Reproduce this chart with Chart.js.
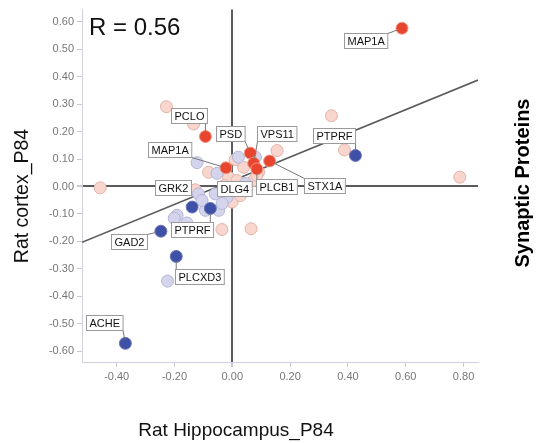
<!DOCTYPE html>
<html>
<head>
<meta charset="utf-8">
<script src="https://cdn.jsdelivr.net/npm/chart.js@4"></script>
<style>
  html, body { margin: 0; padding: 0; background: #fff; }
  #wrap { width: 541px; height: 443px; }
</style>
</head>
<body>
<div id="wrap"><canvas id="scatter"></canvas></div>
<script>
// 四組蛋白點：紅（雙升）、深藍（雙降）、淡粉、淡紫
const redX = [0.587, -0.093, -0.022, 0.062, 0.074, 0.085, 0.129]
const redY = [0.577, 0.182, 0.068, 0.122, 0.085, 0.064, 0.093]

const blueX = [-0.370, -0.247, -0.194, -0.139, -0.076, 0.426]
const blueY = [-0.572, -0.163, -0.255, -0.075, -0.080, 0.113]

const pinkX = [-0.228, -0.134, -0.457, -0.082, 0.039, 0.155, 0.343, 0.388, 0.787, -0.036, 0.065, -0.128,
  -0.013, 0.016, 0.074, 0.091, 0.085, 0.010, -0.013, -0.001, 0.038, -0.028, 0.028]
const pinkY = [0.291, 0.228, -0.005, 0.052, 0.070, 0.131, 0.258, 0.133, 0.034, -0.157, -0.154, -0.012,
  0.034, 0.022, 0.022, 0.052, 0.040, 0.098, -0.039, -0.057, -0.015, 0.004, -0.033]

const lavX = [-0.122, -0.053, 0.021, 0.080, -0.191, -0.201, -0.157, -0.093, -0.047, -0.224, -0.117, -0.059,
  -0.018, -0.105, -0.035, 0.045]
const lavY = [0.087, 0.048, 0.107, 0.107, -0.105, -0.116, -0.133, -0.087, -0.087, -0.345, -0.027, -0.027,
  -0.039, -0.051, -0.062, 0.011]

// 回歸線
const fitSlope = 0.432
const fitIntercept = 0.021
const rText = "R = 0.56"

const xTicks = [-0.4, -0.2, 0, 0.2, 0.4, 0.6, 0.8]
const yTicks = [0.6, 0.5, 0.4, 0.3, 0.2, 0.1, 0, -0.1, -0.2, -0.3, -0.4, -0.5, -0.6]
const xRange = [-0.52, 0.85]
const yRange = [-0.64, 0.645]

// 標籤：名稱、所屬組（dataset 索引）、點索引
const labelNames = ["MAP1A", "PCLO", "MAP1A", "PSD", "VPS11", "PLCB1", "STX1A",
  "PTPRF", "GAD2", "PTPRF", "PLCXD3", "ACHE", "DLG4", "GRK2"]
const labelSets = [0, 0, 0, 0, 0, 0, 0, 1, 1, 1, 1, 1, 3, 3]
const labelIdx = [0, 1, 2, 3, 4, 5, 6, 5, 1, 4, 2, 0, 21, 11]
// 標籤框相對點的位移（像素）
const labelOffset = [[-36, 12], [-16, -21], [-56, -18], [-20, -20], [23, -30], [20, 18], [55, 25],
  [-21, -20], [-32, 10], [-18, 21], [23, 20], [-21, -21], [10, 3], [-22, -2]]

const FONT = "'Liberation Sans', Arial, sans-serif"

const pts = (xs, ys) => xs.map((x, i) => ({ x: x, y: ys[i] }))

const labelPlugin = {
  id: "labels",
  afterDatasetsDraw(chart) {
    const ctx = chart.ctx
    ctx.save()
    ctx.font = "11px " + FONT
    labelNames.forEach((name, k) => {
      const el = chart.getDatasetMeta(labelSets[k]).data[labelIdx[k]]
      const px = el.x, py = el.y
      const cx = px + labelOffset[k][0], cy = py + labelOffset[k][1]
      const w = ctx.measureText(name).width + 6, h = 15
      const x0 = Math.round(cx - w / 2) + 0.5, y0 = Math.round(cy - h / 2) + 0.5
      // 引線
      const qx = Math.min(Math.max(px, x0), x0 + w)
      const qy = Math.min(Math.max(py, y0), y0 + h)
      const d = Math.hypot(px - qx, py - qy)
      if (d > 7) {
        ctx.strokeStyle = "#777"
        ctx.lineWidth = 1
        ctx.beginPath()
        ctx.moveTo(qx, qy)
        ctx.lineTo(px - (px - qx) / d * 5, py - (py - qy) / d * 5)
        ctx.stroke()
      }
      ctx.fillStyle = "#fff"
      ctx.fillRect(x0, y0, w, h)
      ctx.strokeStyle = "#9a9a9a"
      ctx.strokeRect(x0, y0, w, h)
      ctx.fillStyle = "#111"
      ctx.textAlign = "center"
      ctx.textBaseline = "middle"
      ctx.fillText(name, x0 + w / 2, y0 + h / 2 + 0.5)
    })
    ctx.restore()
  }
}

const titlePlugin = {
  id: "titles",
  afterDraw(chart) {
    const ctx = chart.ctx
    ctx.save()
    ctx.fillStyle = "#111"
    ctx.font = "24px " + FONT
    ctx.textAlign = "left"
    ctx.textBaseline = "alphabetic"
    ctx.fillText(rText, 89, 35)

    ctx.font = "19px " + FONT
    ctx.textAlign = "center"
    ctx.textBaseline = "middle"
    ctx.fillText("Rat Hippocampus_P84", 236, 431)

    ctx.translate(23, 196)
    ctx.rotate(-Math.PI / 2)
    ctx.font = "19.5px " + FONT
    ctx.fillText("Rat cortex_P84", 0, 0)
    ctx.restore()

    ctx.save()
    ctx.fillStyle = "#000"
    ctx.font = "bold 20px " + FONT
    ctx.textAlign = "center"
    ctx.textBaseline = "middle"
    ctx.translate(523, 183)
    ctx.rotate(-Math.PI / 2)
    ctx.fillText("Synaptic Proteins", 0, 0)
    ctx.restore()
  }
}

const zeroGrid = {
  color: (c) => (c.tick && c.tick.value === 0 ? "#5a5a5a" : "rgba(0,0,0,0)"),
  lineWidth: (c) => (c.tick && c.tick.value === 0 ? 2 : 1),
  tickColor: "#c8c8d8",
  tickLength: 5
}

const dot = (fill, edge) => ({
  backgroundColor: fill,
  borderColor: edge,
  borderWidth: 1,
  pointRadius: 6,
  pointHoverRadius: 6
})

new Chart(document.getElementById("scatter"), {
  type: "scatter",
  data: {
    datasets: [
      Object.assign({ label: "red", data: pts(redX, redY) }, dot("#e8452f", "#f09a88")),
      Object.assign({ label: "blue", data: pts(blueX, blueY) }, dot("#3f51a6", "#6c78b8")),
      Object.assign({ label: "lav", data: pts(lavX, lavY) }, dot("#d4d5ec", "#b4b5d6")),
      Object.assign({ label: "pink", data: pts(pinkX, pinkY) }, dot("#f8d6ce", "#e3b2a8")),
      {
        label: "fit",
        data: [
          { x: xRange[0], y: fitIntercept + fitSlope * xRange[0] },
          { x: xRange[1], y: fitIntercept + fitSlope * xRange[1] }
        ],
        showLine: true,
        borderColor: "#5a5a5a",
        borderWidth: 1.6,
        pointRadius: 0
      }
    ]
  },
  options: {
    responsive: true,
    maintainAspectRatio: false,
    animation: false,
    devicePixelRatio: 1,
    layout: { padding: { left: 0, right: 63, top: 9, bottom: 0 } },
    plugins: { legend: { display: false }, tooltip: { enabled: false } },
    scales: {
      x: {
        type: "linear",
        min: xRange[0],
        max: xRange[1],
        afterFit: (s) => { s.height = 81 },
        afterBuildTicks: (s) => { s.ticks = xTicks.map((v) => ({ value: v })) },
        ticks: {
          callback: (v) => Number(v).toFixed(2),
          color: "#777",
          font: { family: FONT, size: 11 },
          padding: 3,
          maxRotation: 0,
          autoSkip: false
        },
        grid: zeroGrid,
        border: { color: "#d0d0e0", width: 1 }
      },
      y: {
        type: "linear",
        min: yRange[0],
        max: yRange[1],
        afterFit: (s) => { s.width = 82 },
        afterBuildTicks: (s) => { s.ticks = yTicks.map((v) => ({ value: v })) },
        ticks: {
          callback: (v) => Number(v).toFixed(2),
          color: "#777",
          font: { family: FONT, size: 11 },
          padding: 3,
          autoSkip: false
        },
        grid: zeroGrid,
        border: { color: "#d0d0e0", width: 1 }
      }
    }
  },
  plugins: [labelPlugin, titlePlugin]
})
</script>
</body>
</html>
